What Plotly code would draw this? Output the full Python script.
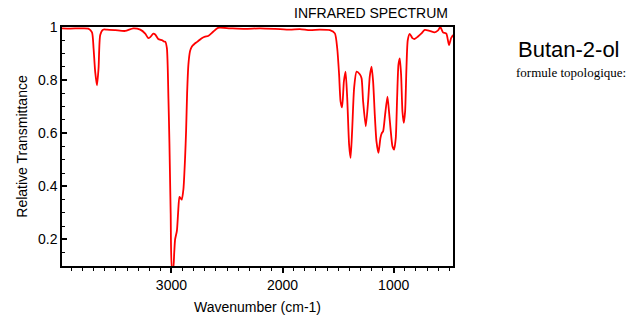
import plotly.graph_objects as go

# Wavenumber (cm-1) and relative transmittance
wavenumber = [3985, 3910, 3820, 3748, 3715, 3701, 3686, 3670, 3656, 3641, 3616, 3580,
              3505, 3416, 3344, 3281, 3236, 3209, 3191, 3164, 3146, 3119, 3083, 3065,
              3056, 3041, 3027, 3018, 3007, 2994, 2985, 2975, 2967, 2951, 2940, 2928,
              2917, 2907, 2892, 2877, 2868, 2859, 2847, 2832, 2817, 2796, 2772, 2751,
              2727, 2697, 2670, 2625, 2580, 2472, 2337, 2203, 2068, 1933, 1844, 1754,
              1664, 1574, 1529, 1508, 1491, 1478, 1464, 1448, 1433, 1418, 1401, 1388,
              1374, 1356, 1334, 1305, 1289, 1275, 1251, 1230, 1215, 1199, 1185, 1170,
              1155, 1137, 1119, 1107, 1095, 1077, 1056, 1042, 1026, 1011, 996, 981,
              969, 957, 945, 933, 921, 909, 897, 885, 873, 855, 831, 810, 781, 750,
              720, 675, 631, 601, 580, 556, 526, 502, 481, 457, 442]
transmittance = [0.995, 0.994, 0.995, 0.994, 0.98, 0.92, 0.83, 0.78, 0.845, 0.97, 0.99, 0.99,
                 0.988, 0.985, 0.995, 0.99, 0.975, 0.958, 0.962, 0.975, 0.972, 0.955, 0.95, 0.945,
                 0.945, 0.92, 0.73, 0.56, 0.3, 0.09, 0.09, 0.15, 0.2, 0.232, 0.3, 0.36,
                 0.355, 0.35, 0.39, 0.51, 0.61, 0.75, 0.86, 0.91, 0.926, 0.935, 0.943, 0.95,
                 0.958, 0.964, 0.966, 0.982, 0.997, 0.995, 0.993, 0.995, 0.993, 0.99, 0.992, 0.988,
                 0.99, 0.988, 0.976, 0.92, 0.82, 0.72, 0.697, 0.795, 0.832, 0.732, 0.557, 0.507,
                 0.607, 0.77, 0.832, 0.822, 0.807, 0.72, 0.626, 0.72, 0.814, 0.851, 0.795, 0.67,
                 0.57, 0.526, 0.582, 0.6, 0.607, 0.67, 0.738, 0.682, 0.607, 0.551, 0.538, 0.582,
                 0.732, 0.857, 0.882, 0.82, 0.682, 0.639, 0.682, 0.845, 0.951, 0.974, 0.958, 0.955, 0.964, 0.976,
                 0.989, 0.985, 0.98, 0.987, 1.0, 0.98, 0.975, 0.932, 0.96, 0.97, 0.92]

x_ticks = [3000, 2000, 1000]
y_ticks = [0.2, 0.4, 0.6, 0.8, 1]
y_tick_labels = ["0.2", "0.4", "0.6", "0.8", "1"]

FONT = "Liberation Sans, Arial, sans-serif"
ML, MR, MT, MB = 62, 188, 27, 52
W, H = 641, 318

fig = go.Figure()
fig.add_trace(go.Scatter(x=wavenumber, y=transmittance, mode="lines",
                         line=dict(color="#ff0000", width=1.8, shape="spline", smoothing=0.6),
                         showlegend=False, hoverinfo="skip"))

fig.update_layout(
    width=W, height=H,
    margin=dict(l=ML, r=MR, t=MT, b=MB, autoexpand=False),
    paper_bgcolor="white", plot_bgcolor="white",
    font=dict(family=FONT, size=14, color="black"),
    xaxis=dict(range=[3985, 466], tickvals=x_ticks, ticks="outside", ticklen=5, tickwidth=1.5,
               tickcolor="black", showline=True, linecolor="black", linewidth=1.5, mirror=True,
               showgrid=False, zeroline=False, automargin=False,
               minor=dict(dtick=100, ticks="outside", ticklen=3, tickwidth=1, tickcolor="black", showgrid=False),
               title=dict(text="Wavenumber (cm-1)", font=dict(size=14), standoff=11),
               tickfont=dict(size=14)),
    yaxis=dict(range=[0.1, 1.0], tickvals=y_ticks, ticktext=y_tick_labels, ticks="inside", ticklen=5,
               tickwidth=1.5, tickcolor="black", showline=True, linecolor="black", linewidth=1.5,
               mirror=True, showgrid=False, zeroline=False, automargin=False,
               minor=dict(dtick=0.05, ticks="inside", ticklen=3, tickwidth=1, tickcolor="black", showgrid=False),
               title=dict(text="Relative Transmittance", font=dict(size=14), standoff=7),
               tickfont=dict(size=14)),
)

pw, ph = W - ML - MR, H - MT - MB


def px_annot(text, xpx, ypx, size, family):
    fig.add_annotation(text=text, x=(xpx - ML) / pw, y=((H - ypx) - MB) / ph,
                       xref="paper", yref="paper", xanchor="center", yanchor="middle",
                       showarrow=False, font=dict(size=size, family=family, color="black"))


px_annot("INFRARED SPECTRUM", 371, 13, 14, FONT)
px_annot("Butan-2-ol", 569, 50, 22, FONT)
px_annot("formule topologique:", 571, 73, 13, "Liberation Serif, Times New Roman, serif")

fig.write_html("out.html", config={"displayModeBar": False},
               post_script="document.body.style.margin='0';document.body.style.overflow='hidden';")
